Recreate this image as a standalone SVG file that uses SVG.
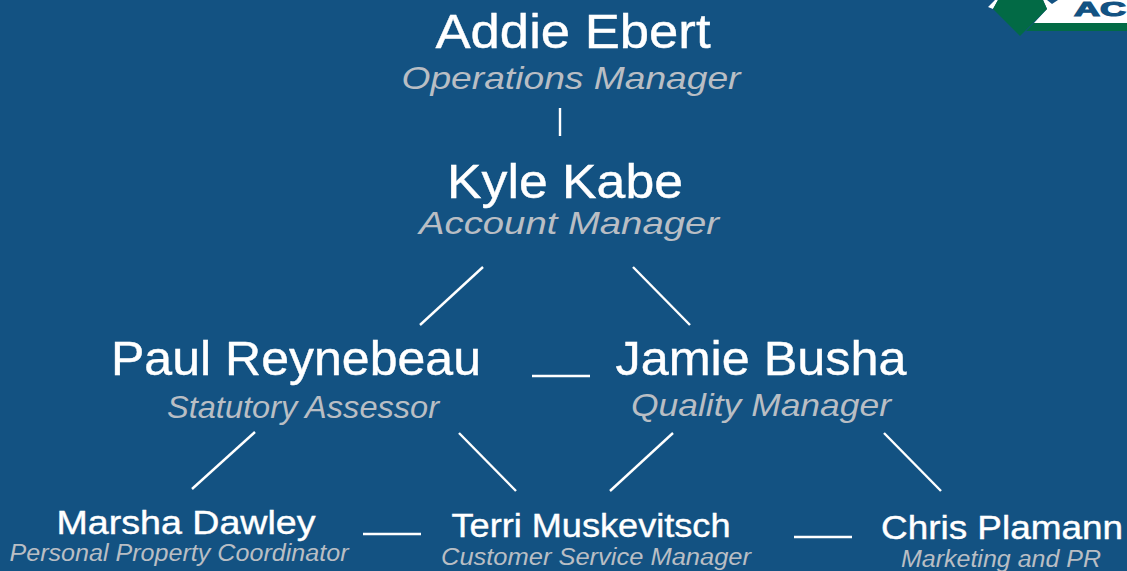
<svg xmlns="http://www.w3.org/2000/svg" width="1127" height="571" viewBox="0 0 1127 571">
<style>
text{font-family:"Liberation Sans",Arial,sans-serif;text-anchor:middle}
.n{fill:#fff;stroke:#fff;stroke-width:.4}
.t{fill:#b9bec4;font-style:italic}
.xl{font-size:48px}
.ts{font-size:32px}
.sm{font-size:33px}
.ss{font-size:23px}
#connectors line{stroke:#fff;stroke-width:2.4}
</style>
<rect width="1127" height="571" fill="#135282"/>
<g id="logo">
<polygon points="988,7 995,0 1127,0 1127,23 1034,23 1047,9 1043,0 998,0 993,9" fill="#fff"/>
<polygon points="998,0 1043,0 1047,9 1020,36 993,9" fill="#026a45"/>
<polygon points="1026,31 1034,23 1127,23 1127,31" fill="#026a45"/>
<polygon points="1047,0 1058,0 1052,4" fill="#135282"/>
<text x="1100" y="16" font-size="21" font-weight="700" fill="#135282" stroke="#135282" stroke-width="1.2" textLength="52" lengthAdjust="spacingAndGlyphs">AC</text>
</g>
<g id="connectors">
<line x1="560" y1="108" x2="560" y2="136"/>
<line x1="483" y1="267" x2="420" y2="325"/>
<line x1="633" y1="267" x2="690" y2="325"/>
<line x1="532" y1="376" x2="590" y2="376"/>
<line x1="255" y1="432" x2="192" y2="489"/>
<line x1="459" y1="433" x2="516" y2="491"/>
<line x1="673" y1="433" x2="610" y2="491"/>
<line x1="884" y1="433" x2="941" y2="491"/>
<line x1="363" y1="534" x2="421" y2="534"/>
<line x1="794" y1="537" x2="852" y2="537"/>
</g>
<g id="addie"><text class="n xl" x="573" y="48" textLength="275" lengthAdjust="spacingAndGlyphs">Addie Ebert</text><text class="t ts" x="571" y="89" textLength="339" lengthAdjust="spacingAndGlyphs">Operations Manager</text></g>
<g id="kyle"><text class="n xl" x="565" y="198" textLength="236" lengthAdjust="spacingAndGlyphs">Kyle Kabe</text><text class="t ts" x="569" y="234" textLength="300" lengthAdjust="spacingAndGlyphs">Account Manager</text></g>
<g id="paul"><text class="n xl" x="296" y="375" textLength="370" lengthAdjust="spacingAndGlyphs">Paul Reynebeau</text><text class="t ts" x="303" y="418" textLength="272" lengthAdjust="spacingAndGlyphs">Statutory Assessor</text></g>
<g id="jamie"><text class="n xl" x="761" y="375" textLength="291" lengthAdjust="spacingAndGlyphs">Jamie Busha</text><text class="t ts" x="761" y="416" textLength="260" lengthAdjust="spacingAndGlyphs">Quality Manager</text></g>
<g id="marsha"><text class="n sm" x="186" y="534" textLength="259" lengthAdjust="spacingAndGlyphs">Marsha Dawley</text><text class="t ss" x="179" y="561" textLength="339" lengthAdjust="spacingAndGlyphs">Personal Property Coordinator</text></g>
<g id="terri"><text class="n sm" x="591" y="537" textLength="279" lengthAdjust="spacingAndGlyphs">Terri Muskevitsch</text><text class="t ss" x="596" y="565" textLength="310" lengthAdjust="spacingAndGlyphs">Customer Service Manager</text></g>
<g id="chris"><text class="n sm" x="1002" y="539" textLength="242" lengthAdjust="spacingAndGlyphs">Chris Plamann</text><text class="t ss" x="1001" y="567" textLength="200" lengthAdjust="spacingAndGlyphs">Marketing and PR</text></g>
</svg>
